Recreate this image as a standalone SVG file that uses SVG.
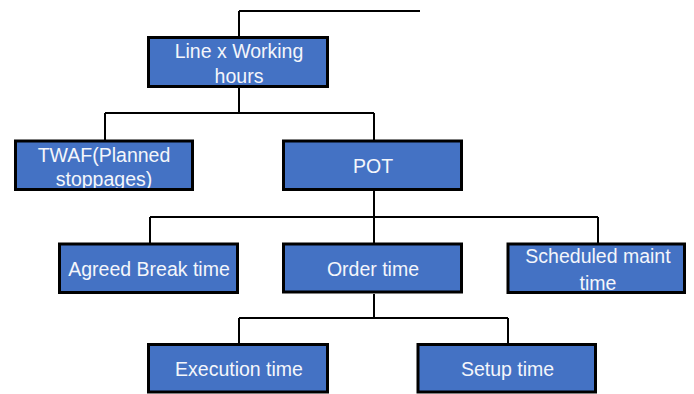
<svg xmlns="http://www.w3.org/2000/svg" width="694" height="394" viewBox="0 0 694 394">
  <style>
    .box { fill: #4472C4; }
    .frame { fill: none; stroke: #000; stroke-width: 3; }
    .label { font-family: "Liberation Sans", Arial, sans-serif; font-size: 19.5px; fill: #F4F6FB; text-anchor: middle; }
    .conn { fill: none; stroke: #000; stroke-width: 2; }
  </style>
  <rect width="694" height="394" fill="#fff"/>

  <g id="connectors">
    <path class="conn" d="M239,11 H420 M239,11 V37"/>
    <path class="conn" d="M239,88 V113 M105,113 H374 M105,113 V140 M374,113 V140"/>
    <path class="conn" d="M374,191 V217 M150,217 H598 M150,217 V243 M374,217 V243 M598,217 V243"/>
    <path class="conn" d="M374,294 V318 M239,318 H508 M239,318 V343 M508,318 V343"/>
  </g>

  <g id="line-working-hours">
    <rect class="box" x="148.5" y="37.5" width="179" height="49"/>
    <text class="label" x="239" y="58.3">Line x Working</text>
    <text class="label" x="239" y="82.7">hours</text>
    <rect class="frame" x="148.5" y="37.5" width="179" height="49"/>
  </g>

  <g id="twaf">
    <rect class="box" x="15.5" y="141" width="177" height="48.5"/>
    <text class="label" x="104" y="161.5">TWAF(Planned</text>
    <text class="label" x="104" y="185.5">stoppages)</text>
    <rect class="frame" x="15.5" y="141" width="177" height="48.5"/>
  </g>

  <g id="pot">
    <rect class="box" x="283.5" y="141" width="178" height="48.5"/>
    <text class="label" x="373" y="172.5">POT</text>
    <rect class="frame" x="283.5" y="141" width="178" height="48.5"/>
  </g>

  <g id="agreed-break">
    <rect class="box" x="59.5" y="244" width="178" height="48.5"/>
    <text class="label" x="149" y="276">Agreed Break time</text>
    <rect class="frame" x="59.5" y="244" width="178" height="48.5"/>
  </g>

  <g id="order-time">
    <rect class="box" x="283.5" y="244" width="178" height="48"/>
    <text class="label" x="373" y="276">Order time</text>
    <rect class="frame" x="283.5" y="244" width="178" height="48"/>
  </g>

  <g id="scheduled-maint">
    <rect class="box" x="508" y="244" width="176.5" height="48.5"/>
    <text class="label" x="598" y="263.3">Scheduled maint</text>
    <text class="label" x="598" y="290">time</text>
    <rect class="frame" x="508" y="244" width="176.5" height="48.5"/>
  </g>

  <g id="execution-time">
    <rect class="box" x="148.5" y="344.5" width="179" height="47.5"/>
    <text class="label" x="239" y="376">Execution time</text>
    <rect class="frame" x="148.5" y="344.5" width="179" height="47.5"/>
  </g>

  <g id="setup-time">
    <rect class="box" x="418" y="344.5" width="177.5" height="47.5"/>
    <text class="label" x="507.5" y="376">Setup time</text>
    <rect class="frame" x="418" y="344.5" width="177.5" height="47.5"/>
  </g>
</svg>
